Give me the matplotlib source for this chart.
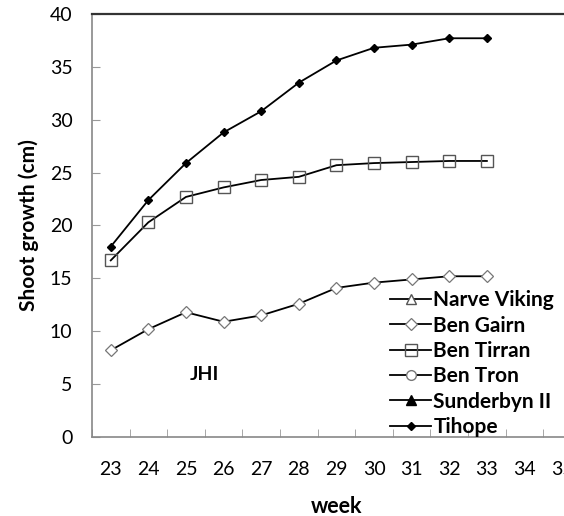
import numpy as np
import matplotlib
matplotlib.use("Agg")
import matplotlib.pyplot as plt

plt.rcParams['font.family'] = ['Lato', 'DejaVu Sans']

weeks = [23, 24, 25, 26, 27, 28, 29, 30, 31, 32, 33]
tihope = [18.0, 22.4, 25.9, 28.8, 30.8, 33.5, 35.6, 36.8, 37.1, 37.7, 37.7]
ben_tirran = [16.7, 20.3, 22.7, 23.6, 24.3, 24.6, 25.7, 25.9, 26.0, 26.1, 26.1]
ben_gairn = [8.2, 10.2, 11.8, 10.9, 11.5, 12.6, 14.1, 14.6, 14.9, 15.2, 15.2]
# these three appear only in the legend
narve_viking = []
ben_tron = []
sunderbyn = []
week_ticks = list(range(23, 36))

fig = plt.figure(figsize=(5.64, 5.16), dpi=100)
ax = fig.add_axes([0.163, 0.153, 0.867, 0.82])

ax.plot(narve_viking, narve_viking, color="black", lw=1.3, marker="^", ms=7,
        mfc="white", mec="#555555", label="Narve Viking")
ax.plot(weeks, ben_gairn, color="black", lw=1.3, marker="D", ms=6,
        mfc="white", mec="#777777", mew=0.9, label="Ben Gairn")
ax.plot(weeks, ben_tirran, color="black", lw=1.3, marker="s", ms=8,
        mfc="none", mec="#555555", mew=1.0, label="Ben Tirran")
ax.plot(ben_tron, ben_tron, color="black", lw=1.3, marker="o", ms=7,
        mfc="white", mec="#777777", label="Ben Tron")
ax.plot(sunderbyn, sunderbyn, color="black", lw=1.3, marker="^", ms=7,
        mfc="black", mec="black", label="Sunderbyn II")
ax.plot(weeks, tihope, color="black", lw=1.3, marker="D", ms=4.2,
        mfc="black", mec="black", label="Tihope")

ax.set_xlim(22.5, 35.5)
ax.set_ylim(0, 40)
ax.set_yticks(range(0, 41, 5))
ax.set_xticks(week_ticks)
ax.set_xticks(np.arange(22.5, 36, 1.0), minor=True)
ax.tick_params(axis="x", which="major", length=0, pad=17, labelsize=14)
ax.tick_params(axis="x", which="minor", direction="in", length=6, color="#999999")
ax.tick_params(axis="y", direction="in", length=6, color="#999999",
               pad=14, labelsize=14)

for s in ["left", "bottom"]:
    ax.spines[s].set_color("#888888")
    ax.spines[s].set_linewidth(1.2)
ax.spines["top"].set_color("#333333")
ax.spines["top"].set_linewidth(1.6)
ax.spines["right"].set_visible(False)

ax.set_ylabel("Shoot growth (cm)", fontsize=15, fontweight="bold", labelpad=8)
ax.set_xlabel("week", fontsize=15.5, fontweight="bold", labelpad=13)
ax.text(25.5, 5.9, "JHI", fontsize=14, fontweight="bold", ha="center", va="center")

leg = ax.legend(loc="lower left", bbox_to_anchor=(0.592, -0.02), frameon=False,
                prop={"weight": "bold", "size": 15}, handlelength=2.0,
                handletextpad=0.1, labelspacing=0.26, borderaxespad=0)

fig.savefig("out.png", dpi=100)
